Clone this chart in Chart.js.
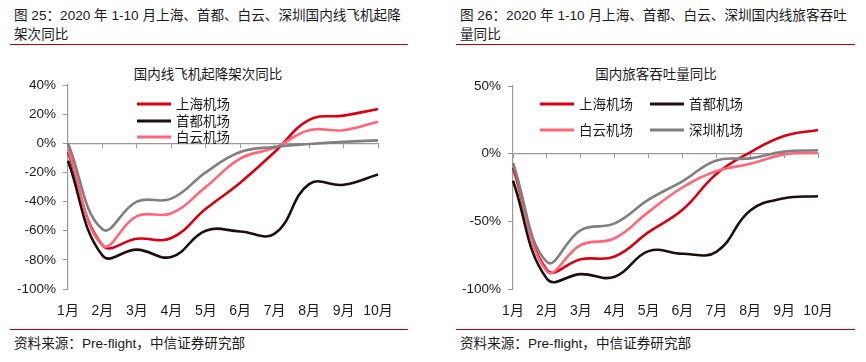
<!DOCTYPE html>
<html><head><meta charset="utf-8">
<script src="https://cdn.jsdelivr.net/npm/chart.js@4/dist/chart.umd.min.js"></script>
<style>
html,body{margin:0;padding:0;background:#fff;width:866px;height:362px;overflow:hidden;}
body{position:relative;font-family:'Liberation Sans','Noto Sans CJK SC',sans-serif;color:#1a1a1a;}
.t{position:absolute;font-size:13.6px;line-height:19px;white-space:nowrap;}
.rule{position:absolute;height:1.5px;background:#C00000;}
.ct{position:absolute;font-size:13.5px;text-align:center;width:300px;line-height:18px;}
canvas{position:absolute;}
</style></head><body>
<div class="t" style="left:14px;top:6px;">图 25：2020 年 1-10 月上海、首都、白云、深圳国内线飞机起降<br>架次同比</div>
<div class="rule" style="left:10px;top:43.5px;width:398px;"></div>
<div class="t" style="left:460px;top:6px;">图 26：2020 年 1-10 月上海、首都、白云、深圳国内线旅客吞吐<br>量同比</div>
<div class="rule" style="left:456px;top:43.5px;width:399px;"></div>
<div class="ct" style="left:58px;top:66px;">国内线飞机起降架次同比</div>
<div class="ct" style="left:506px;top:66px;">国内旅客吞吐量同比</div>
<div class="rule" style="left:10px;top:328.5px;width:398px;"></div>
<div class="rule" style="left:456px;top:328.5px;width:399px;"></div>
<div class="t" style="left:14px;top:334px;">资料来源：Pre-flight，中信证券研究部</div>
<div class="t" style="left:460px;top:334px;">资料来源：Pre-flight，中信证券研究部</div>
<canvas id="c1" width="433" height="264" style="left:0;top:60px;"></canvas>
<canvas id="c2" width="433" height="264" style="left:433px;top:60px;"></canvas>
<script>
// ---- data ----
const months = ['1月','2月','3月','4月','5月','6月','7月','8月','9月','10月'];
const seriesNames = ['上海机场','首都机场','白云机场','深圳机场'];
// 图25 国内线飞机起降架次同比 (%)
const flightsShanghai = [-6, -70, -65.5, -65, -45, -27, -6, 16, 19, 23.5];
const flightsBeijing  = [-12, -77, -73, -78, -60, -60.5, -62, -28, -28.5, -21.5];
const flightsBaiyun   = [-4, -70, -50, -48, -30, -10.5, -3, 9, 9, 14.8];
const flightsShenzhen = [0, -59, -40, -38, -20, -6, -2.5, -0.5, 1, 2];
// 图26 国内旅客吞吐量同比 (%)
const paxShanghai = [-10.5, -86, -78, -76, -58, -41.5, -15, 1, 13, 17.5];
const paxBeijing  = [-20, -92.5, -89, -91, -72, -74, -72.5, -42, -33, -31.5];
const paxBaiyun   = [-7, -87, -67.5, -62.5, -43, -25, -13, -7.5, -0.5, 0.7];
const paxShenzhen = [-7, -80, -56.5, -51.5, -34, -20.4, -5, -3.5, 1.5, 2.5];
const yTicks1 = {min:-100, max:40, step:20};
const yTicks2 = {min:-100, max:50, step:50};

const colors = ['#DA0012','#1E0E0E','#FF6677','#808080'];
const FONT = "'Liberation Sans','Noto Sans CJK SC',sans-serif";

const legendPlugin = {
  id:'customLegend',
  afterDatasetsDraw(chart, args, opts){
    if(!opts || !opts.items) return;
    const ctx = chart.ctx;
    opts.items.forEach(it=>{
      const ds = chart.data.datasets[it.index];
      ctx.save();
      ctx.strokeStyle = ds.borderColor;
      ctx.lineWidth = opts.lineWidth;
      ctx.beginPath();
      ctx.moveTo(it.x, it.y);
      ctx.lineTo(it.x + opts.sampleLen, it.y);
      ctx.stroke();
      ctx.fillStyle = '#1a1a1a';
      ctx.font = opts.fontSize + 'px ' + FONT;
      ctx.textBaseline = 'middle';
      ctx.textAlign = 'left';
      ctx.fillText(ds.label, it.x + opts.sampleLen + opts.gap, it.y + 1);
      ctx.restore();
    });
  }
};

function makeChart(id, sets, yr, yWidth, pad, legendItems){
  const datasets = sets.map((d,i)=>({
    label: seriesNames[i], data: d, borderColor: colors[i], backgroundColor: colors[i],
    borderWidth: 2.6, pointRadius: 0, tension: 0.42, fill:false, order: 4-i
  }));
  return new Chart(document.getElementById(id), {
    type:'line',
    data:{labels: months, datasets},
    plugins:[legendPlugin],
    options:{
      responsive:false, animation:false, devicePixelRatio:1,
      layout:{padding:pad},
      plugins:{legend:{display:false}, tooltip:{enabled:false},
        customLegend:{items:legendItems, sampleLen:34, gap:5, lineWidth:3, fontSize:13.5}},
      scales:{
        x:{type:'category', offset:false,
          grid:{display:false, drawTicks:false}, border:{display:false},
          ticks:{color:'#1a1a1a', font:{family:FONT, size:14}, padding:14, maxRotation:0, autoSkip:false},
          afterFit(s){ s.height = 35; }
        },
        x2:{type:'category', axis:'x', offset:false, position:{y:0},
          grid:{drawOnChartArea:false, drawTicks:true, tickLength:4, color:'#999999'},
          border:{display:true, color:'#999999', width:1.2},
          ticks:{display:false}
        },
        y:{min:yr.min, max:yr.max,
          ticks:{stepSize:yr.step, color:'#1a1a1a', font:{family:FONT, size:13.5}, padding:7,
            callback:v=>v+'%'},
          grid:{drawOnChartArea:false, drawTicks:true, tickLength:5, color:'#999999'},
          border:{display:true, color:'#999999', width:1.2},
          afterFit(s){ s.width = yWidth; }
        }
      }
    }
  });
}

makeChart('c1', [flightsShanghai, flightsBeijing, flightsBaiyun, flightsShenzhen], yTicks1, 68,
  {top:25, left:0, right:55, bottom:0},
  [{index:0,x:137,y:44},{index:1,x:137,y:61},{index:2,x:137,y:77}]);
makeChart('c2', [paxShanghai, paxBeijing, paxBaiyun, paxShenzhen], yTicks2, 80,
  {top:26, left:0, right:48, bottom:0},
  [{index:0,x:107,y:44},{index:1,x:217,y:44},{index:2,x:107,y:70},{index:3,x:217,y:70}]);
</script>
</body></html>
